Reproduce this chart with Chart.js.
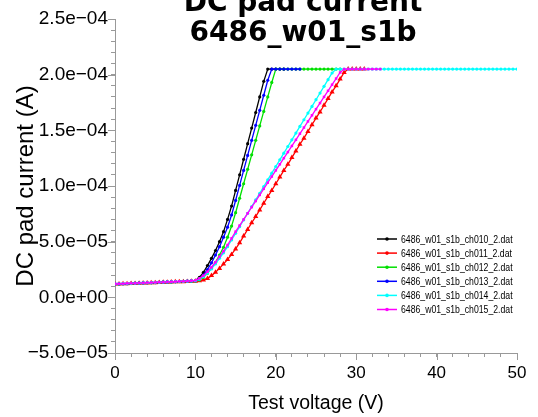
<!DOCTYPE html>
<html>
<head>
<meta charset="utf-8">
<script src="https://cdn.jsdelivr.net/npm/chart.js@4.4.1/dist/chart.umd.min.js"></script>
<style>
  html, body { margin: 0; padding: 0; background: #fff; }
  #wrap { width: 538px; height: 417px; position: relative; }
</style>
</head>
<body>
<div id="wrap"><canvas id="ivChart" width="538" height="417"></canvas></div>
<script>
// sweep voltages (V), 0.5 V steps
const volts = [0, 0.5, 1, 1.5, 2, 2.5, 3, 3.5, 4, 4.5, 5, 5.5, 6, 6.5, 7, 7.5, 8, 8.5, 9, 9.5,
  10, 10.5, 11, 11.5, 12, 12.5, 13, 13.5, 14, 14.5, 15, 15.5, 16, 16.5, 17, 17.5, 18, 18.5, 19, 19.5,
  20, 20.5, 21, 21.5, 22, 22.5, 23, 23.5, 24, 24.5, 25, 25.5, 26, 26.5, 27, 27.5, 28, 28.5, 29, 29.5,
  30, 30.5, 31, 31.5, 32, 32.5, 33, 33.5, 34, 34.5, 35, 35.5, 36, 36.5, 37, 37.5, 38, 38.5, 39, 39.5,
  40, 40.5, 41, 41.5, 42, 42.5, 43, 43.5, 44, 44.5, 45, 45.5, 46, 46.5, 47, 47.5, 48, 48.5, 49, 49.5, 50];

const legendNames = ["6486_w01_s1b_ch010_2.dat", "6486_w01_s1b_ch011_2.dat", "6486_w01_s1b_ch012_2.dat",
  "6486_w01_s1b_ch013_2.dat", "6486_w01_s1b_ch014_2.dat", "6486_w01_s1b_ch015_2.dat"];
const colors = ["#000000", "#ff0000", "#00e000", "#0000ff", "#00ffff", "#ff00ff"];

// currents in uA
const ch010 = [12.0, 12.1, 12.3, 12.4, 12.5, 12.7, 12.8, 13.0, 13.1, 13.2, 13.4, 13.5, 13.7, 13.8, 13.9, 14.1, 14.2, 14.4, 14.5, 14.8,
  15.2, 18, 22.5, 28.5, 35, 42, 50, 59, 70, 82, 96, 110, 124, 138, 152, 166, 180, 194, 205, 205,
  205, 205, 205];
const ch011 = [11.9, 12.0, 12.1, 12.3, 12.4, 12.5, 12.7, 12.8, 12.9, 13.1, 13.2, 13.3, 13.5, 13.6, 13.7, 13.9, 14.0, 14.1, 14.2, 14.4,
  14.5, 14.9, 15.6, 17, 19.5, 22.5, 26, 30, 34, 38.5, 43.5, 49, 55, 61, 67, 72.5, 78.5, 84.5, 90.5, 96,
  102, 108, 114, 119.5, 125.5, 131.5, 137.5, 143, 149, 155, 161, 166.5, 172.5, 178.5, 184.5, 190, 196, 202, 205, 205,
  205, 205, 205];
const ch012 = [11.9, 12.0, 12.2, 12.3, 12.4, 12.6, 12.7, 12.9, 13.0, 13.1, 13.3, 13.4, 13.6, 13.7, 13.8, 14.0, 14.1, 14.2, 14.3, 14.5,
  14.6, 15.6, 18, 21.5, 26, 31.5, 38, 45, 54, 64, 76, 89, 102, 115, 128, 141, 154, 167, 180, 193,
  205, 205, 205, 205, 205, 205, 205, 205, 205, 205, 205, 205, 205, 205, 205, 205, 205];
const ch013 = [12.0, 12.1, 12.2, 12.4, 12.5, 12.6, 12.8, 12.9, 13.1, 13.2, 13.3, 13.5, 13.6, 13.8, 13.9, 14.0, 14.2, 14.3, 14.5, 14.7,
  15.0, 16.8, 20, 25, 31, 38, 45.5, 54, 63, 74, 87, 100.5, 114, 127.5, 141, 154.5, 168, 181.5, 195, 205,
  205, 205, 205, 205, 205, 205, 205];
const ch014 = [12.0, 12.1, 12.3, 12.4, 12.5, 12.7, 12.8, 13.0, 13.1, 13.2, 13.4, 13.5, 13.7, 13.8, 13.9, 14.1, 14.2, 14.4, 14.5, 14.7,
  15.0, 16.3, 18.5, 21.8, 25.5, 30, 35, 40, 45.5, 51.5, 57.5, 63.5, 69.5, 75.5, 81.5, 87.5, 93.5, 99.5, 105.5, 111.5,
  117.5, 123.5, 129.5, 135.5, 141.5, 147.5, 153.5, 159.5, 165.5, 171.5, 177.5, 183.5, 189.5, 195.5, 201.5, 205, 205, 205, 205, 205,
  205, 205, 205, 205, 205, 205, 205, 205, 205, 205, 205, 205, 205, 205, 205, 205, 205, 205, 205, 205,
  205, 205, 205, 205, 205, 205, 205, 205, 205, 205, 205, 205, 205, 205, 205, 205, 205, 205, 205, 205, 205];
const ch015 = [12.1, 12.2, 12.3, 12.5, 12.6, 12.7, 12.9, 13.0, 13.2, 13.3, 13.4, 13.6, 13.7, 13.9, 14.0, 14.1, 14.3, 14.4, 14.6, 14.9,
  15.3, 17, 19.5, 23, 27, 31.5, 36.5, 41.5, 47, 53, 59, 64.5, 70, 75.5, 81, 86.5, 92, 97.5, 103, 108.5,
  114, 119.5, 125, 130.5, 136, 141.5, 147, 152.5, 158, 163.5, 169, 174.5, 180, 185.5, 191, 196.5, 202, 205, 205, 205,
  205, 205, 205, 205, 205, 205, 205];

const seriesUA = [ch010, ch011, ch012, ch013, ch014, ch015];
const markerStyles = ["circle", "triangle", "circle", "circle", "circle", "rect"];
const markerSizes = [1.6, 3, 1.6, 1.6, 1.6, 1.8];

const SANS = "'Liberation Sans', Arial, sans-serif";

function fmtExp(v) {
    const n = Math.round(v / 1e-5);
    if (n % 5 !== 0) return "";
    if (n === 0) return "0.0e+00";
    const a = Math.abs(n) * 1e-5;
    const e = Math.floor(Math.log10(a) + 1e-9);
    const m = a / Math.pow(10, e);
    return (n < 0 ? "\u2212" : "") + m.toFixed(1) + "e" + (e < 0 ? "\u2212" : "+") + String(Math.abs(e)).padStart(2, "0");
}

const datasets = seriesUA.map((arr, i) => ({
    label: legendNames[i],
    data: arr.map((ua, k) => ({ x: volts[k], y: ua * 1e-6 })),
    borderColor: colors[i],
    backgroundColor: colors[i],
    borderWidth: 1.3,
    pointStyle: markerStyles[i],
    pointRadius: markerSizes[i],
    pointBorderWidth: 0,
    tension: 0,
    order: 5 - i
}));

// title + in-plot legend + long major ticks
const extras = {
    id: "extras",
    afterDraw(chart) {
        const c = chart.ctx;
        const area = chart.chartArea;
        c.save();
        // longer major ticks
        c.strokeStyle = "#999";
        c.lineWidth = 1;
        const xs = chart.scales.x, ys = chart.scales.y;
        xs.ticks.forEach(t => {
            if (Math.round(t.value) % 10 !== 0) return;
            const px = Math.round(xs.getPixelForValue(t.value)) + 0.5;
            c.beginPath(); c.moveTo(px, area.bottom); c.lineTo(px, area.bottom + 7); c.stroke();
        });
        ys.ticks.forEach(t => {
            if (Math.round(t.value / 1e-5) % 5 !== 0) return;
            const py = Math.round(ys.getPixelForValue(t.value)) + 0.5;
            c.beginPath(); c.moveTo(area.left, py); c.lineTo(area.left - 7, py); c.stroke();
        });

        // title
        c.fillStyle = "#000";
        c.textAlign = "center";
        c.textBaseline = "alphabetic";
        c.font = "bold 28px 'DejaVu Sans', Verdana, sans-serif";
        c.fillText("DC pad current", 303, 11);
        c.fillText("6486_w01_s1b", 303, 41);

        // legend
        const lx = 377, ly = 239, step = 14.1;
        c.textAlign = "left";
        c.textBaseline = "middle";
        chart.data.datasets.forEach((ds, i) => {
            const y = ly + i * step;
            c.strokeStyle = ds.borderColor;
            c.lineWidth = 1.5;
            c.beginPath(); c.moveTo(lx, y); c.lineTo(lx + 20, y); c.stroke();
            c.fillStyle = ds.borderColor;
            c.beginPath(); c.arc(lx + 10, y, 1.8, 0, Math.PI * 2); c.fill();
            c.fillStyle = "#000";
            c.save();
            c.translate(lx + 24, y + 0.5);
            c.scale(1, 1.3);
            c.font = "8.7px " + SANS;
            c.fillText(ds.label, 0, 0);
            c.restore();
        });
        c.restore();
    }
};

const chart = new Chart(document.getElementById("ivChart"), {
    type: "line",
    data: { datasets: datasets },
    options: {
        responsive: false,
        animation: false,
        devicePixelRatio: 1,
        layout: { padding: { top: 19, right: 21, left: 0, bottom: 0 } },
        plugins: { legend: { display: false }, tooltip: { enabled: false }, title: { display: false } },
        scales: {
            x: {
                type: "linear",
                min: 0, max: 50,
                afterFit: s => { s.height = 64; },
                ticks: {
                    stepSize: 2, autoSkip: false, maxTicksLimit: 100, maxRotation: 0,
                    padding: 6, color: "#000",
                    font: { family: SANS, size: 17 },
                    callback: v => (Math.round(v) % 10 === 0 ? String(Math.round(v)) : "")
                },
                grid: { drawOnChartArea: false, drawTicks: true, tickLength: 4, color: "#999" },
                border: { color: "#999" },
                title: { display: true, text: "Test voltage (V)", color: "#000",
                         font: { family: SANS, size: 19.5 }, padding: { top: 0, bottom: 2 } }
            },
            y: {
                min: -5e-5, max: 2.5e-4,
                afterFit: s => { s.width = 115; },
                ticks: {
                    stepSize: 1e-5, autoSkip: false, maxTicksLimit: 100,
                    padding: 3, color: "#000",
                    font: { family: SANS, size: 19 },
                    callback: v => fmtExp(v)
                },
                grid: { drawOnChartArea: false, drawTicks: true, tickLength: 4, color: "#999" },
                border: { color: "#999" },
                title: { display: true, text: "DC pad current (A)", color: "#000",
                         font: { family: SANS, size: 24 }, padding: { top: 12, bottom: 0 } }
            }
        }
    },
    plugins: [extras]
});
</script>
</body>
</html>
